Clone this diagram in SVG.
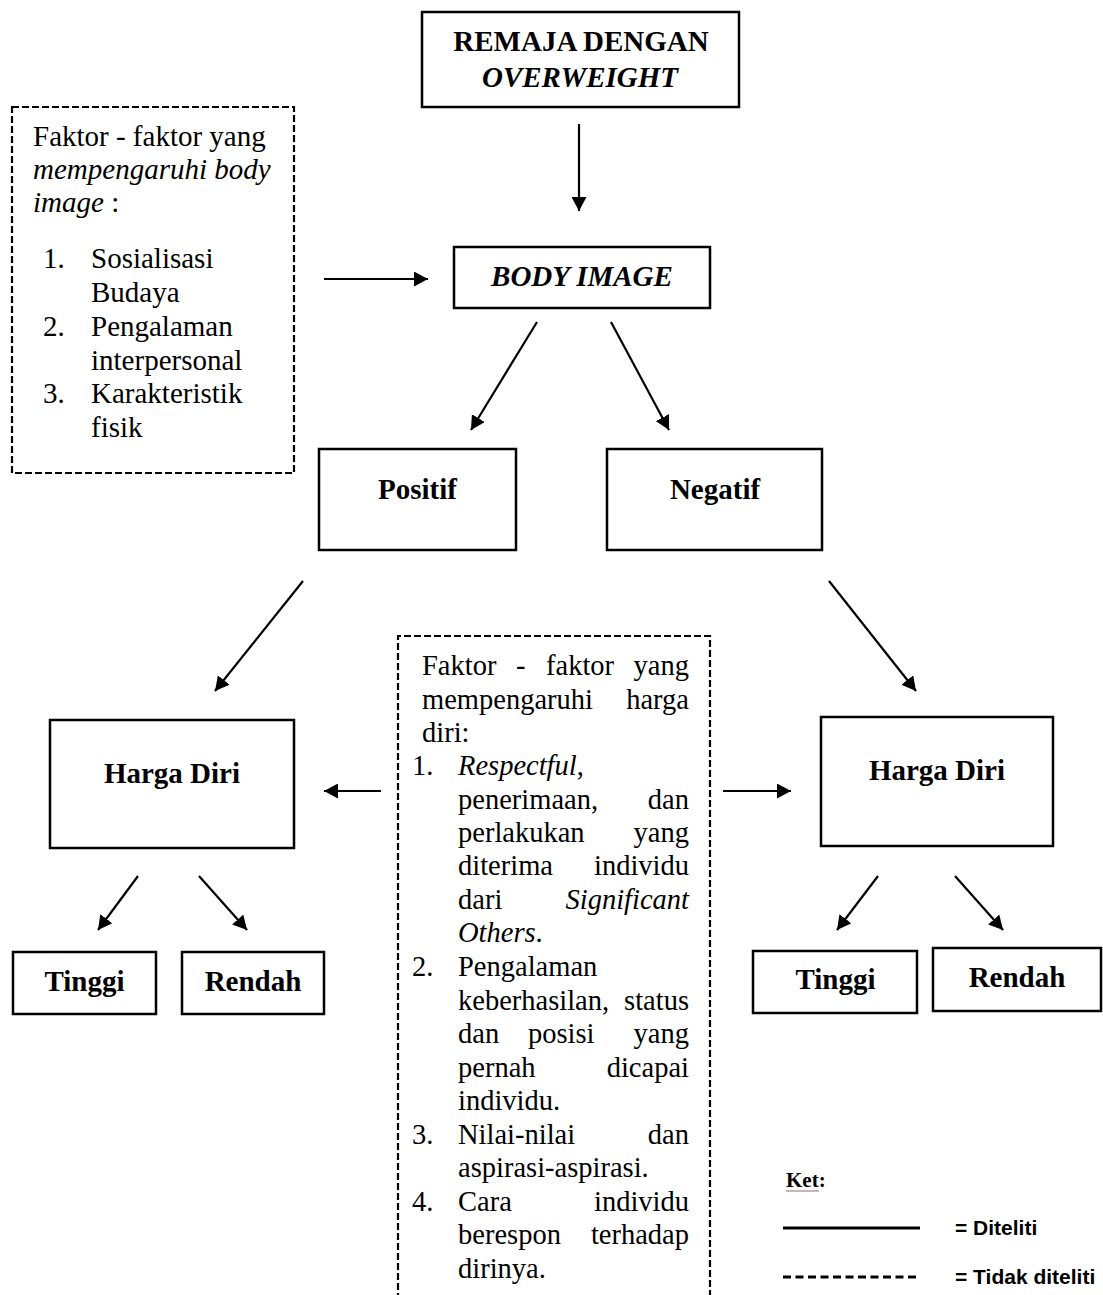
<svg xmlns="http://www.w3.org/2000/svg" width="1103" height="1295" viewBox="0 0 1103 1295">
<style>
.box{fill:#fff;stroke:#000;stroke-width:2.5}
.dash{fill:none;stroke:#000;stroke-width:2.2;stroke-dasharray:7 3}
.t{font-family:"Liberation Serif","Times New Roman",serif;font-size:29px;fill:#000}
.m{font-family:"Liberation Serif","Times New Roman",serif;font-size:28.5px;fill:#000}
.b{font-weight:bold}
.i{font-style:italic}
.c{text-anchor:middle}
.e{text-anchor:end}
.con line{stroke:#000;stroke-width:2.2;marker-end:url(#ah)}
.leg{font-family:"Liberation Sans",Arial,sans-serif;font-size:21px;font-weight:bold;fill:#000}
</style>
<defs>
<marker id="ah" markerUnits="userSpaceOnUse" markerWidth="15" markerHeight="15" refX="14" refY="7.5" orient="auto">
<path d="M0,0 L14,7.5 L0,15 z" fill="#000"/>
</marker>
</defs>
<rect width="1103" height="1295" fill="#fff"/>

<g id="remaja">
<rect class="box" x="422" y="12" width="317" height="95"/>
<text class="t b c" x="581" y="51">REMAJA DENGAN</text>
<text class="t b i c" x="580" y="87">OVERWEIGHT</text>
</g>

<g id="faktor-body-image">
<rect class="dash" x="12" y="107" width="282" height="366"/>
<text class="t" x="33" y="146">Faktor - faktor yang</text>
<text class="t i" x="33" y="179">mempengaruhi body</text>
<text class="t" x="33" y="212"><tspan class="i">image</tspan> :</text>
<text class="t" x="43" y="268">1.</text><text class="t" x="91" y="268">Sosialisasi</text>
<text class="t" x="91" y="302">Budaya</text>
<text class="t" x="43" y="336">2.</text><text class="t" x="91" y="336">Pengalaman</text>
<text class="t" x="91" y="370">interpersonal</text>
<text class="t" x="43" y="403">3.</text><text class="t" x="91" y="403">Karakteristik</text>
<text class="t" x="91" y="437">fisik</text>
</g>

<g id="body-image">
<rect class="box" x="454" y="247" width="256" height="61"/>
<text class="t b i c" x="582" y="286">BODY IMAGE</text>
</g>

<g id="positif">
<rect class="box" x="319" y="449" width="197" height="101"/>
<text class="t b c" x="417.5" y="499">Positif</text>
</g>

<g id="negatif">
<rect class="box" x="607" y="449" width="215" height="101"/>
<text class="t b c" x="715" y="499">Negatif</text>
</g>

<g id="harga-diri-kiri">
<rect class="box" x="50" y="720" width="244" height="128"/>
<text class="t b c" x="172" y="783">Harga Diri</text>
</g>

<g id="harga-diri-kanan">
<rect class="box" x="821" y="717" width="232" height="129"/>
<text class="t b c" x="937" y="780">Harga Diri</text>
</g>

<g id="tinggi-kiri">
<rect class="box" x="13" y="952" width="143" height="62"/>
<text class="t b c" x="84.5" y="991">Tinggi</text>
</g>

<g id="rendah-kiri">
<rect class="box" x="182" y="952" width="142" height="62"/>
<text class="t b c" x="253" y="991">Rendah</text>
</g>

<g id="tinggi-kanan">
<rect class="box" x="753" y="951" width="164" height="62"/>
<text class="t b c" x="835.5" y="989">Tinggi</text>
</g>

<g id="rendah-kanan">
<rect class="box" x="933" y="948" width="168" height="63"/>
<text class="t b c" x="1017" y="987">Rendah</text>
</g>

<g id="faktor-harga-diri">
<path class="dash" d="M398,1300 V636 H710 V1300"/>
<text class="m" x="422" y="675">Faktor</text><text class="m" x="516" y="675">-</text><text class="m" x="546" y="675">faktor</text><text class="m e" x="689" y="675">yang</text>
<text class="m" x="422" y="709">mempengaruhi</text><text class="m e" x="689" y="709">harga</text>
<text class="m" x="422" y="742">diri:</text>
<text class="m" x="412" y="775">1.</text><text class="m" x="458" y="775"><tspan class="i">Respectful</tspan>,</text>
<text class="m" x="458" y="809">penerimaan,</text><text class="m e" x="689" y="809">dan</text>
<text class="m" x="458" y="842">perlakukan</text><text class="m e" x="689" y="842">yang</text>
<text class="m" x="458" y="875">diterima</text><text class="m e" x="689" y="875">individu</text>
<text class="m" x="458" y="909">dari</text><text class="m i e" x="689" y="909">Significant</text>
<text class="m" x="458" y="942"><tspan class="i">Others</tspan>.</text>
<text class="m" x="412" y="976">2.</text><text class="m" x="458" y="976">Pengalaman</text>
<text class="m" x="458" y="1010">keberhasilan,</text><text class="m e" x="689" y="1010">status</text>
<text class="m" x="458" y="1043">dan</text><text class="m" x="528" y="1043">posisi</text><text class="m e" x="689" y="1043">yang</text>
<text class="m" x="458" y="1077">pernah</text><text class="m e" x="689" y="1077">dicapai</text>
<text class="m" x="458" y="1110">individu.</text>
<text class="m" x="412" y="1144">3.</text><text class="m" x="458" y="1144">Nilai-nilai</text><text class="m e" x="689" y="1144">dan</text>
<text class="m" x="458" y="1177">aspirasi-aspirasi.</text>
<text class="m" x="412" y="1211">4.</text><text class="m" x="458" y="1211">Cara</text><text class="m e" x="689" y="1211">individu</text>
<text class="m" x="458" y="1244">berespon</text><text class="m e" x="689" y="1244">terhadap</text>
<text class="m" x="458" y="1278">dirinya.</text>
</g>

<g id="connectors" class="con">
<line x1="579" y1="124" x2="579" y2="211"/>
<line x1="324" y1="279" x2="428" y2="279"/>
<line x1="537" y1="322" x2="471" y2="430"/>
<line x1="611" y1="322" x2="669" y2="430"/>
<line x1="303" y1="581" x2="215" y2="691"/>
<line x1="829" y1="581" x2="916" y2="691"/>
<line x1="381" y1="791" x2="324" y2="791"/>
<line x1="723" y1="791" x2="791" y2="791"/>
<line x1="138" y1="876" x2="98" y2="930"/>
<line x1="199" y1="876" x2="247" y2="930"/>
<line x1="878" y1="876" x2="837" y2="930"/>
<line x1="955" y1="876" x2="1003" y2="930"/>
</g>

<g id="keterangan">
<text class="t b" style="font-size:21px" x="786" y="1187">Ket:</text>
<line x1="786" y1="1191" x2="819" y2="1191" stroke="#9a6a6a" stroke-width="1"/>
<line x1="783" y1="1228" x2="920" y2="1228" stroke="#000" stroke-width="3"/>
<text class="leg" x="955" y="1235">= Diteliti</text>
<line x1="783" y1="1277" x2="920" y2="1277" stroke="#000" stroke-width="3" stroke-dasharray="8 4.5"/>
<text class="leg" x="955" y="1284">= Tidak diteliti</text>
</g>
</svg>
